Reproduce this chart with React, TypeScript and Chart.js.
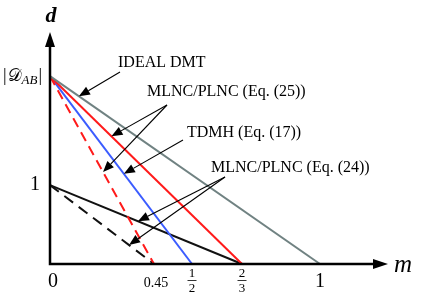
import React, { useEffect, useRef } from 'react';
import { Chart, registerables, LinearScale } from 'chart.js';

// ---- data ----
const D_AB = 2.38; // |D_AB| level (schematic)
const idealX = [0, 1];
const idealY = [D_AB, 0];
const eq25X = [0, 2 / 3];
const eq25Y = [D_AB, 0];
const eq25DashX = [0, 0.45];
const eq25DashY = [D_AB, 0];
const tdmhX = [0, 0.5];
const tdmhY = [D_AB, 0];
const eq24X = [0, 2 / 3];
const eq24Y = [1, 0];
const eq24DashX = [0, 0.45];
const eq24DashY = [1, 0];

const xTickValues = [0, 0.45, 0.5, 2 / 3, 1];
const xTickLabels = ['0', '0.45', '1/2', '2/3', '1'];
const yTickValues = [1, D_AB];
const yTickLabels = ['1', '|𝒟AB|'];

// schematic (non-uniform) x axis of the original figure: value knots -> share of axis length
const X_KNOT_VALUES = [0, 0.45, 0.5, 2 / 3, 1, 1.29];
const X_KNOT_SHARES = [0, 104 / 338, 142 / 338, 192 / 338, 270 / 338, 1];

class WarpScale extends (LinearScale as any) {
  static id = 'warp';
  static defaults = (LinearScale as any).defaults;
  share(v: number) {
    const kv = X_KNOT_VALUES, ks = X_KNOT_SHARES;
    if (v <= kv[0]) return ks[0];
    for (let i = 1; i < kv.length; i++) {
      if (v <= kv[i]) {
        const t = (v - kv[i - 1]) / (kv[i] - kv[i - 1]);
        return ks[i - 1] + t * (ks[i] - ks[i - 1]);
      }
    }
    return ks[ks.length - 1];
  }
  getPixelForValue(v: number) {
    return (this as any).left + this.share(v) * (this as any).width;
  }
  getValueForPixel(p: number) {
    const s = (p - (this as any).left) / (this as any).width;
    const kv = X_KNOT_VALUES, ks = X_KNOT_SHARES;
    for (let i = 1; i < ks.length; i++) {
      if (s <= ks[i]) {
        const t = (s - ks[i - 1]) / (ks[i] - ks[i - 1]);
        return kv[i - 1] + t * (kv[i] - kv[i - 1]);
      }
    }
    return kv[kv.length - 1];
  }
}

Chart.register(...registerables, WarpScale as any);

const SERIF = '"Liberation Serif", "Times New Roman", serif';

const annotations = [
  { text: 'IDEAL DMT', tx: 118, ty: 63, tail: [120, 72], targets: [{ ds: 0, t: 0.107 }] },
  { text: 'MLNC/PLNC (Eq. (25))', tx: 147, ty: 92, tail: [167, 105], targets: [{ ds: 1, t: 0.32 }, { ds: 2, t: 0.51 }] },
  { text: 'TDMH (Eq. (17))', tx: 187, ty: 133, tail: [183, 140], targets: [{ ds: 3, t: 0.52 }] },
  { text: 'MLNC/PLNC (Eq. (24))', tx: 211, ty: 168, tail: [225, 177], targets: [{ ds: 4, t: 0.458 }, { ds: 5, t: 0.76 }] },
];

function arrow(ctx: CanvasRenderingContext2D, x0: number, y0: number, x1: number, y1: number, len: number, half: number, lw: number) {
  const ang = Math.atan2(y1 - y0, x1 - x0);
  const bx = x1 - len * Math.cos(ang), by = y1 - len * Math.sin(ang);
  ctx.beginPath();
  ctx.lineWidth = lw;
  ctx.moveTo(x0, y0);
  ctx.lineTo(bx, by);
  ctx.stroke();
  ctx.beginPath();
  ctx.moveTo(x1, y1);
  ctx.lineTo(bx + half * Math.sin(ang), by - half * Math.cos(ang));
  ctx.lineTo(bx - half * Math.sin(ang), by + half * Math.cos(ang));
  ctx.closePath();
  ctx.fill();
}

const decorPlugin = {
  id: 'decor',
  afterDatasetsDraw(chart: any) {
    const ctx: CanvasRenderingContext2D = chart.ctx;
    const xs = chart.scales.x, ys = chart.scales.y;
    const ox = xs.getPixelForValue(0), oy = ys.getPixelForValue(0);
    const ca = chart.chartArea;
    ctx.save();
    ctx.strokeStyle = '#000';
    ctx.fillStyle = '#000';
    // axes
    ctx.lineWidth = 2.5;
    ctx.beginPath();
    ctx.moveTo(ox, oy + 1.2);
    ctx.lineTo(ox, ca.top + 14);
    ctx.moveTo(ox - 1.2, oy);
    ctx.lineTo(ca.right - 14, oy);
    ctx.stroke();
    ctx.beginPath();
    ctx.moveTo(ox, ca.top);
    ctx.lineTo(ox - 5, ca.top + 15);
    ctx.lineTo(ox + 5, ca.top + 15);
    ctx.closePath();
    ctx.fill();
    ctx.beginPath();
    ctx.moveTo(ca.right, oy);
    ctx.lineTo(ca.right - 15, oy - 5);
    ctx.lineTo(ca.right - 15, oy + 5);
    ctx.closePath();
    ctx.fill();

    // axis titles
    ctx.textBaseline = 'middle';
    ctx.textAlign = 'center';
    ctx.font = `italic bold 22px ${SERIF}`;
    ctx.fillText('d', ox + 1, 16);
    ctx.textAlign = 'left';
    ctx.font = `italic 25px ${SERIF}`;
    ctx.fillText('m', ca.right + 6, oy + 1);

    // x tick labels
    xTickValues.forEach((v, i) => {
      const px = xs.getPixelForValue(v);
      const lab = xTickLabels[i];
      ctx.textAlign = 'center';
      ctx.textBaseline = 'middle';
      if (lab.includes('/')) {
        const [n, d] = lab.split('/');
        ctx.font = `13px ${SERIF}`;
        ctx.fillText(n, px, oy + 9.5);
        ctx.fillText(d, px, oy + 24.5);
        ctx.lineWidth = 0.8;
        ctx.beginPath();
        ctx.moveTo(px - 4.5, oy + 16.5);
        ctx.lineTo(px + 4.5, oy + 16.5);
        ctx.stroke();
      } else if (lab === '0.45') {
        ctx.font = `14px ${SERIF}`;
        ctx.fillText(lab, px + 2, oy + 19);
      } else {
        ctx.font = `20px ${SERIF}`;
        ctx.fillText(lab, px + (v === 0 ? 3 : 0), oy + 18);
      }
    });

    // y tick labels
    yTickValues.forEach((v, i) => {
      const py = ys.getPixelForValue(v);
      const lab = yTickLabels[i];
      ctx.textBaseline = 'middle';
      if (lab.startsWith('|')) {
        ctx.textAlign = 'left';
        let x = 3;
        ctx.font = `18px ${SERIF}`;
        ctx.fillText('|', x, py);
        x += ctx.measureText('|').width + 1;
        ctx.font = `17px "DejaVu Serif", ${SERIF}`;
        ctx.fillText('𝒟', x, py);
        x += ctx.measureText('𝒟').width;
        ctx.font = `italic 13px ${SERIF}`;
        ctx.fillText('AB', x, py + 4);
        x += ctx.measureText('AB').width + 1;
        ctx.font = `18px ${SERIF}`;
        ctx.fillText('|', x, py);
      } else {
        ctx.textAlign = 'center';
        ctx.font = `20px ${SERIF}`;
        ctx.fillText(lab, ox - 15, py);
      }
    });

    // annotations
    ctx.textAlign = 'left';
    ctx.textBaseline = 'middle';
    ctx.font = `16px ${SERIF}`;
    annotations.forEach((a) => {
      ctx.fillText(a.text, a.tx, a.ty);
      a.targets.forEach((tg) => {
        const pts = chart.getDatasetMeta(tg.ds).data;
        const p0 = pts[0], p1 = pts[1];
        const x = p0.x + tg.t * (p1.x - p0.x);
        const y = p0.y + tg.t * (p1.y - p0.y);
        arrow(ctx, a.tail[0], a.tail[1], x, y, 11, 4.5, 1.1);
      });
    });
    ctx.restore();
  },
};

function pts(xv: number[], yv: number[]) {
  return xv.map((x, i) => ({ x, y: yv[i] }));
}

export default function App() {
  const ref = useRef<HTMLCanvasElement>(null);
  useEffect(() => {
    if (!ref.current) return;
    const base = { pointRadius: 0, borderWidth: 2, fill: false, tension: 0, clip: false as any };
    const chart = new Chart(ref.current, {
      type: 'line',
      data: {
        datasets: [
          { ...base, label: 'IDEAL DMT', data: pts(idealX, idealY), borderColor: '#708282' },
          { ...base, label: 'MLNC/PLNC (Eq. (25))', data: pts(eq25X, eq25Y), borderColor: '#ff1a1a' },
          { ...base, label: 'MLNC/PLNC (Eq. (25)) dashed', data: pts(eq25DashX, eq25DashY), borderColor: '#ff1a1a', borderDash: [10, 6] },
          { ...base, label: 'TDMH (Eq. (17))', data: pts(tdmhX, tdmhY), borderColor: '#3b5cff' },
          { ...base, label: 'MLNC/PLNC (Eq. (24))', data: pts(eq24X, eq24Y), borderColor: '#111' },
          { ...base, label: 'MLNC/PLNC (Eq. (24)) dashed', data: pts(eq24DashX, eq24DashY), borderColor: '#111', borderDash: [11, 7] },
        ],
      },
      options: {
        animation: false,
        responsive: false,
        events: [],
        layout: { padding: { left: 50, right: 34, top: 32, bottom: 36 } },
        plugins: { legend: { display: false }, tooltip: { enabled: false } },
        scales: {
          x: { type: 'warp' as any, min: 0, max: 1.29, display: false },
          y: { type: 'linear', min: 0, max: 2.94, display: false },
        },
      },
      plugins: [decorPlugin],
    });
    return () => chart.destroy();
  }, []);
  return (
    <div style={{ position: 'fixed', left: 0, top: 0, width: 422, height: 300, background: '#fff' }}>
      <canvas ref={ref} width={422} height={300} style={{ display: 'block', width: 422, height: 300 }} />
    </div>
  );
}
